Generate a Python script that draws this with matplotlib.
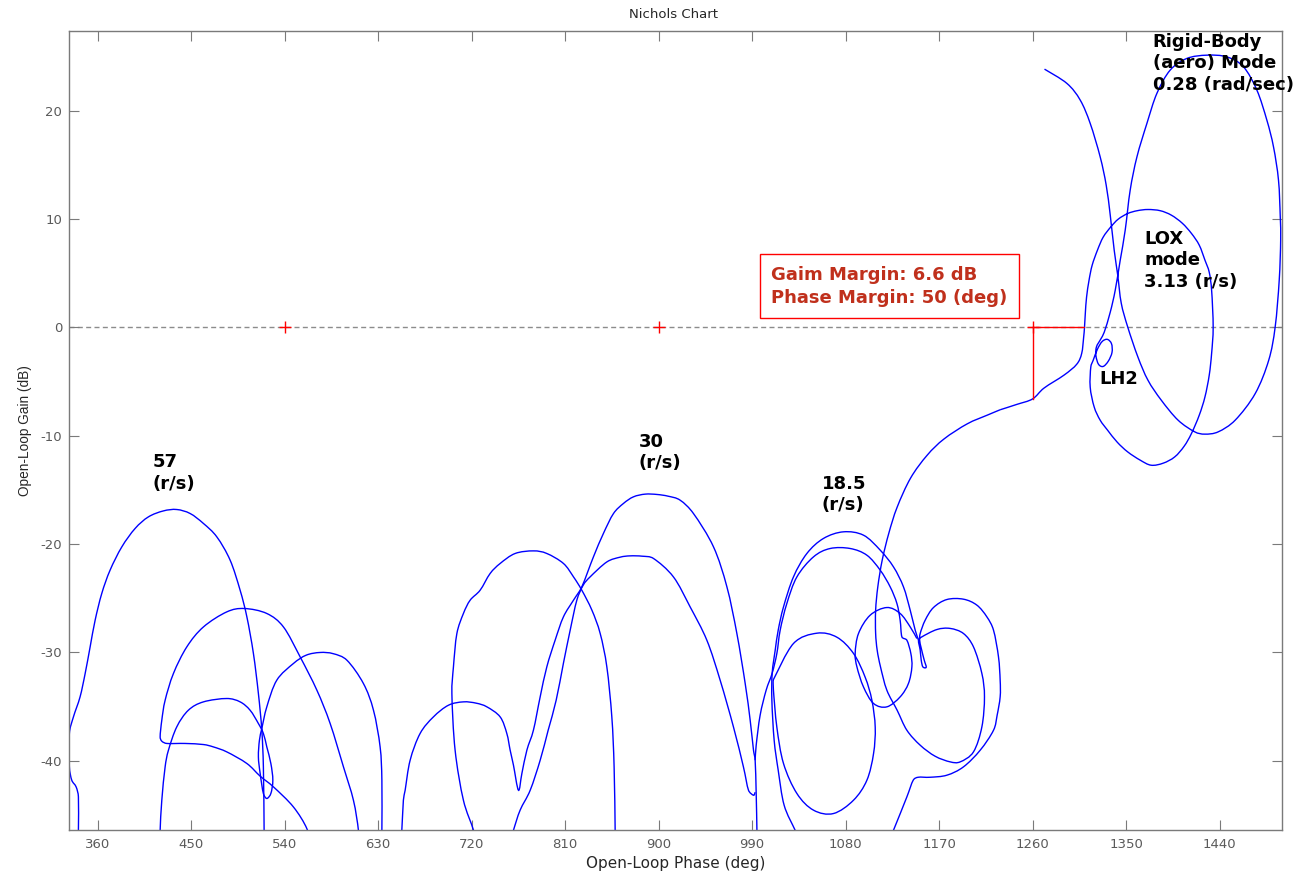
import matplotlib
matplotlib.use("Agg")
import numpy as np
import matplotlib.pyplot as plt
from matplotlib.path import Path
from matplotlib.patches import PathPatch

plt.rcParams["axes.unicode_minus"] = False
plt.rcParams["font.family"] = ["DejaVu Sans"]

# ---------------------------------------------------------------------------
# Open-loop frequency response, split into branches (phase in deg, gain in dB)
# ---------------------------------------------------------------------------

# Rigid-body (aero) mode, LH2 and LOX slosh loops, down through the crossover
rigid_lox_phase = [
    1271.5, 1293.1, 1305.9, 1315.5, 1325.1, 1330.9, 1334.8, 1338.6, 1342.0, 1345.4,
    1351.6, 1361.4, 1371.1, 1383.9, 1400.1, 1416.2, 1425.9, 1438.7, 1455.1, 1474.4,
    1487.4, 1493.6, 1497.5, 1498.9, 1498.5, 1496.8, 1492.0, 1485.6, 1476.0, 1463.1,
    1447.1, 1427.9, 1408.6, 1392.5, 1379.7, 1370.1, 1360.5, 1354.0, 1349.2, 1344.4,
    1339.6, 1334.8, 1329.0,
    1325.5, 1321.5, 1321.0, 1323.5, 1328.0, 1333.0, 1336.5, 1336.0, 1332.0, 1327.0,
    1322.5, 1318.5,
    1316.1, 1315.5, 1319.3, 1325.1, 1332.2, 1341.5, 1351.6, 1363.6, 1374.2, 1385.8,
    1396.9, 1406.0, 1413.0, 1420.5, 1426.0, 1430.1, 1432.4, 1433.9, 1432.4, 1430.1,
    1426.0, 1420.5, 1413.0, 1404.1, 1393.6, 1382.9, 1371.1, 1360.8, 1351.6, 1342.5,
    1335.4, 1328.0, 1322.5, 1317.4, 1314.4, 1312.0, 1310.8, 1310.0, 1309.2, 1307.3,
    1302.5, 1290.3, 1271.0, 1260.0, 1245.0, 1228.8,
]
rigid_lox_gain = [
    23.85, 22.53, 20.99, 18.84, 15.75, 13.14, 10.37, 7.14, 4.83, 2.24,
    0.05, -2.72, -4.87, -6.71, -8.56, -9.64, -9.85, -9.64, -8.56, -6.10,
    -3.02, 0.05, 4.37, 8.06, 10.21, 13.60, 16.67, 19.14, 21.91, 24.06,
    24.98, 25.14, 24.84, 23.76, 21.61, 18.84, 15.75, 12.68, 8.98, 6.21,
    3.44, 1.41, -0.44,
    -1.10, -1.80, -2.60, -3.40, -3.60, -3.10, -2.30, -1.50, -1.10, -1.30,
    -2.00, -3.00,
    -3.64, -5.51, -7.33, -8.56, -9.48, -10.59, -11.49, -12.25, -12.72, -12.53,
    -11.95, -10.96, -9.79, -8.10, -6.41, -4.41, -2.40, 0.03, 3.44, 5.10,
    6.21, 7.60, 8.68, 9.63, 10.37, 10.78, 10.89, 10.78, 10.52, 10.00,
    9.29, 8.34, 7.14, 5.75, 4.37, 2.80, 1.30, 0.00, -0.90, -2.40,
    -3.40, -4.40, -5.60, -6.60, -7.10, -7.60,
]

# Descent into the 18.5 r/s bending region, the two loops on its right side
bend18_phase = [
    1228.8, 1216.3, 1197.1, 1174.7, 1158.5, 1142.6, 1129.6, 1121.6, 1115.2, 1111.0,
    1108.9, 1108.9, 1110.4, 1113.6, 1119.7, 1129.6, 1139.0, 1151.8, 1166.2, 1180.7,
    1190.3, 1203.1, 1211.2, 1213.7, 1211.2, 1203.1, 1193.5, 1180.7, 1167.9, 1153.4,
    1150.2, 1151.8, 1152.8, 1154.4, 1157.6, 1155.7, 1152.8, 1151.3, 1151.8, 1156.6,
    1164.6, 1177.5, 1193.5, 1206.4, 1216.0, 1222.4, 1227.2, 1228.8, 1228.8, 1225.9,
    1222.4, 1209.6, 1193.5, 1177.5, 1161.4, 1149.9, 1145.1, 1139.0, 1126.1, 1120.0,
]
bend18_gain = [
    -7.60, -8.10, -8.90, -10.30, -11.80, -13.90, -16.60, -19.00, -21.50, -23.95,
    -26.11, -28.23, -29.80, -31.34, -33.49, -35.34, -37.19, -38.57, -39.59, -40.11,
    -40.11, -39.19, -36.88, -34.11, -31.95, -29.49, -28.26, -27.79, -27.89, -28.57,
    -28.88, -29.80, -30.72, -31.34, -31.37, -30.72, -29.61, -28.88, -28.26, -27.03,
    -25.86, -25.12, -25.09, -25.64, -26.72, -27.95, -30.42, -32.57, -34.11, -35.80,
    -37.19, -39.03, -40.57, -41.34, -41.53, -41.53, -41.80, -43.34, -46.42, -47.80,
]

# 18.5 r/s mode, outer arch
bend18_outer_phase = [
    1150.2, 1147.0, 1142.2, 1135.7, 1126.1, 1113.3, 1097.2, 1077.9, 1058.7, 1042.7,
    1029.8, 1020.2, 1015.1, 1012.2, 1009.3, 1009.0, 1011.2, 1015.1, 1020.8, 1031.4,
    1036.3,
]
bend18_outer_gain = [
    -28.88, -27.95, -26.11, -23.95, -22.11, -20.56, -19.18, -18.87, -19.48, -20.87,
    -23.03, -25.80, -27.95, -29.80, -31.92, -34.42, -38.11, -40.88, -44.11, -46.42,
    -47.50,
]

# 18.5 r/s mode, inner arch with its small loop
bend18_inner_phase = [
    992.9, 993.9, 997.7, 1003.5, 1009.3, 1013.8, 1017.0, 1023.4, 1033.1, 1049.1,
    1065.1, 1084.4, 1100.5, 1113.3, 1122.9, 1129.4, 1132.5, 1134.2, 1139.0, 1142.8,
    1143.8, 1140.5, 1132.5, 1119.7, 1106.9, 1097.2, 1090.9, 1089.2, 1092.4, 1103.6,
    1119.7, 1132.5, 1142.2, 1148.6,
]
bend18_inner_gain = [
    -39.96, -38.57, -35.80, -33.49, -31.92, -30.10, -27.95, -25.49, -23.03, -21.18,
    -20.41, -20.41, -21.03, -22.41, -23.95, -25.49, -27.03, -28.57, -28.88, -30.10,
    -31.34, -32.87, -34.11, -35.03, -34.72, -33.19, -31.34, -30.10, -28.26, -26.57,
    -25.86, -26.41, -27.65, -28.72,
]

# Closed loop between 1010 and 1110 deg
bend_mid_phase = [
    1010.2, 1029.8, 1052.3, 1071.6, 1087.6, 1098.8, 1105.3, 1108.5, 1106.9, 1100.5,
    1087.6, 1068.3, 1049.1, 1033.1, 1020.2, 1013.8, 1010.5, 1010.2,
]
bend_mid_gain = [
    -32.57, -29.18, -28.23, -28.60, -30.10, -32.29, -34.42, -36.91, -39.34, -41.80,
    -43.65, -44.88, -44.57, -43.03, -40.26, -36.91, -33.49, -32.57,
]

# 30 r/s mode, outer arch (entered from the 720 deg hump)
bend30_phase = [
    651.1, 652.7, 654.2, 655.9, 660.7, 670.3, 683.1, 697.6, 712.0, 724.3,
    734.6, 747.4, 753.8, 757.0, 760.2, 765.0, 768.3, 773.1, 779.4, 785.9,
    792.3, 800.3, 808.3, 818.0, 826.0, 837.2, 846.8, 856.5, 866.1, 875.7,
    887.0, 898.3, 909.1, 920.7, 933.5, 952.8, 965.7, 975.3, 983.3, 988.1,
    991.3, 992.9, 993.9, 994.6, 994.7,
]
bend30_gain = [
    -47.80, -46.42, -43.65, -42.73, -39.96, -37.49, -35.96, -34.88, -34.57, -34.69,
    -35.03, -35.96, -37.49, -39.03, -40.42, -42.73, -41.18, -39.03, -37.19, -34.11,
    -31.34, -28.88, -26.72, -25.18, -23.95, -21.18, -19.02, -17.18, -16.25, -15.64,
    -15.39, -15.42, -15.58, -15.95, -17.18, -20.26, -23.95, -28.26, -32.87, -36.26,
    -39.03, -39.96, -43.03, -46.42, -47.80,
]

# 30 r/s mode, inner arch
bend30_inner_phase = [
    756.0, 760.2, 766.6, 776.3, 785.9, 793.6, 801.3, 808.3, 814.8, 821.2,
    827.3, 834.0, 850.1, 862.9, 872.5, 884.1, 895.0, 914.2, 930.3, 946.4,
    959.2, 972.0, 981.6, 986.5, 991.3, 992.9,
]
bend30_inner_gain = [
    -47.80, -46.42, -44.57, -42.73, -39.96, -37.19, -34.42, -31.00, -27.95, -25.18,
    -23.80, -23.03, -21.65, -21.21, -21.09, -21.12, -21.33, -23.03, -25.80, -28.88,
    -32.57, -36.88, -40.57, -42.73, -43.19, -42.91,
]

# Hump peaking near 780 deg
hump780_phase = [
    724.3, 721.7, 712.0, 704.0, 700.9, 702.4, 705.7, 712.0, 718.5, 728.1,
    737.7, 747.4, 761.8, 779.4, 792.3, 808.3, 818.0, 826.0, 835.7, 843.7,
    850.1, 854.9, 857.1, 858.1, 858.2,
]
hump780_gain = [
    -47.80, -46.42, -43.65, -39.03, -33.80, -31.34, -28.26, -26.41, -25.18, -24.26,
    -22.72, -21.79, -20.87, -20.63, -20.87, -21.79, -23.03, -24.26, -26.10, -28.26,
    -31.34, -35.96, -40.57, -46.42, -47.80,
]

# 57 r/s mode
bend57_phase = [
    341.3, 341.3, 341.3, 339.1, 334.9, 332.6, 332.6, 336.5, 342.9, 347.8,
    352.6, 357.4, 363.8, 371.8, 383.1, 395.9, 408.7, 423.1, 436.0, 448.9,
    461.7, 474.6, 487.4, 497.0, 503.5, 509.8, 514.6, 517.9, 519.4, 520.1,
    520.1,
]
bend57_gain = [
    -47.80, -46.42, -43.34, -42.42, -41.80, -40.57, -37.49, -35.96, -34.11, -31.95,
    -29.49, -27.03, -24.56, -22.41, -20.26, -18.56, -17.49, -16.94, -16.81, -17.18,
    -18.10, -19.34, -21.49, -24.26, -26.72, -30.10, -33.80, -37.19, -40.57, -46.42,
    -47.80,
]

# Arch peaking near 500 deg, with its flat tail
hump500_phase = [
    611.0, 610.9, 606.1, 596.5, 583.7, 570.9, 554.8, 538.7, 522.7, 501.1,
    484.2, 461.7, 445.7, 432.8, 424.8, 421.6, 420.0, 421.6, 426.4, 444.0,
    461.7, 471.3, 484.2, 503.5, 516.3, 529.1, 548.3, 561.2, 564.4,
]
hump500_gain = [
    -47.80, -46.42, -43.65, -40.57, -36.57, -33.49, -30.42, -27.65, -26.41, -25.95,
    -26.26, -27.65, -29.49, -31.95, -34.42, -36.26, -37.80, -38.20, -38.41, -38.41,
    -38.51, -38.73, -39.19, -40.26, -41.43, -42.42, -44.27, -46.26, -47.80,
]

# Low arch near 480 deg, small knot and arch near 575 deg
hump575_phase = [
    420.0, 420.0, 421.6, 424.8, 428.0, 436.0, 447.2, 461.7, 484.2, 497.0,
    506.6, 514.6, 519.4, 522.7, 526.6, 528.5, 526.6, 522.7, 519.4, 516.3,
    514.6, 515.6, 517.9, 522.7, 532.3, 548.3, 560.6, 574.0, 586.6, 599.8,
    615.7, 625.4, 631.8, 633.5, 633.5, 633.5,
]
hump575_gain = [
    -47.80, -46.42, -43.65, -40.57, -39.03, -36.88, -35.34, -34.57, -34.26, -34.57,
    -35.34, -36.57, -37.49, -38.73, -40.26, -41.80, -43.03, -43.49, -43.03, -41.18,
    -39.65, -38.11, -37.03, -35.03, -32.57, -31.03, -30.26, -30.01, -30.12, -30.72,
    -32.87, -35.34, -38.73, -41.80, -46.42, -47.80,
]

# Stability margins and -180 deg (mod 360) critical points
gain_margin_db = 6.6
phase_margin_deg = 50
critical_phase = [540, 900, 1260]
margin_phase = 1260

x_ticks = [360, 450, 540, 630, 720, 810, 900, 990, 1080, 1170, 1260, 1350, 1440]
y_ticks = [-40, -30, -20, -10, 0, 10, 20]

branches = [
    (rigid_lox_phase, rigid_lox_gain),
    (bend18_phase, bend18_gain),
    (bend18_outer_phase, bend18_outer_gain),
    (bend18_inner_phase, bend18_inner_gain),
    (bend_mid_phase, bend_mid_gain),
    (bend30_phase, bend30_gain),
    (bend30_inner_phase, bend30_inner_gain),
    (hump780_phase, hump780_gain),
    (bend57_phase, bend57_gain),
    (hump500_phase, hump500_gain),
    (hump575_phase, hump575_gain),
]
for ph, g in branches:
    assert len(ph) == len(g)


def smooth_path(phase, gain, aspect=10.4, clamp=0.4):
    """Cubic Bezier path passing through every (phase, gain) sample
    (Catmull-Rom tangents, limited to a fraction of each segment)."""
    p = np.column_stack([np.asarray(phase, float), np.asarray(gain, float) * aspect])
    n = len(p)
    verts = [p[0]]
    codes = [Path.MOVETO]
    for i in range(n - 1):
        p0 = p[i - 1] if i > 0 else p[i]
        p1, p2 = p[i], p[i + 1]
        p3 = p[i + 2] if i + 2 < n else p[i + 1]
        seg = np.hypot(*(p2 - p1))
        t1 = (p2 - p0) / 6.0
        t2 = (p3 - p1) / 6.0
        for t in (t1, t2):
            m = np.hypot(*t)
            if m > clamp * seg and m > 0:
                t *= clamp * seg / m
        verts += [p1 + t1, p2 - t2, p2]
        codes += [Path.CURVE4] * 3
    v = np.array(verts)
    v[:, 1] /= aspect
    return Path(v, codes)


# ---------------------------------------------------------------------------
fig = plt.figure(figsize=(13.02, 8.77), dpi=100)
ax = fig.add_axes([0.0532, 0.0536, 0.9317, 0.9114])

ax.axhline(0, color="#8c8c8c", lw=1.0, linestyle=(0, (3.6, 2.4)), zorder=1)

for ph, g in branches:
    ax.add_patch(PathPatch(smooth_path(ph, g), fc="none", ec="#0000ff",
                           lw=1.0, zorder=2))

# margin markers
ax.plot(critical_phase, [0] * len(critical_phase), linestyle="none", marker="+",
        color="#ff0000", markersize=9, mew=1.0, zorder=3)
ax.plot([margin_phase, margin_phase + phase_margin_deg], [0, 0],
        color="#ff0000", lw=1.0, zorder=3)
ax.plot([margin_phase, margin_phase], [0, -gain_margin_db],
        color="#ff0000", lw=1.0, zorder=3)

ax.set_xlim(332.5, 1500.5)
ax.set_ylim(-46.4, 27.4)
ax.set_xticks(x_ticks)
ax.set_yticks(y_ticks)

for sp in ax.spines.values():
    sp.set_color("#7a7a7a")
    sp.set_linewidth(1.0)
ax.tick_params(axis="both", direction="in", length=7, width=0.8, color="#7a7a7a",
               top=True, right=True, labelsize=9.5, labelcolor="#5a5a5a")
ax.tick_params(axis="x", pad=5.5)
ax.tick_params(axis="y", pad=5)

fig.text(0.5174, 0.984, "Nichols Chart", ha="center", va="center",
         fontsize=9.5, color="#262626")
ax.set_xlabel("Open-Loop Phase (deg)", fontsize=11, color="#262626", labelpad=4)
ax.set_ylabel("Open-Loop Gain (dB)", fontsize=9.8, color="#262626",
              family=["Liberation Sans"], labelpad=6)

note = dict(fontsize=13, fontweight="bold", color="black", ha="left", va="top",
            linespacing=1.25, zorder=4)
ax.text(412.5, -11.6, "57\n(r/s)", **note)
ax.text(881.0, -9.7, "30\n(r/s)", **note)
ax.text(1057.0, -13.6, "18.5\n(r/s)", **note)
ax.text(1375.5, 27.2, "Rigid-Body\n(aero) Mode\n0.28 (rad/sec)", **note)
ax.text(1367.5, 9.0, "LOX\nmode\n3.13 (r/s)", **note)
ax.text(1324.0, -3.9, "LH2", **note)

ax.text(1122.0, 3.8,
        f"Gaim Margin: {gain_margin_db} dB\nPhase Margin: {phase_margin_deg} (deg)",
        fontsize=13, fontweight="bold", color="#c0301c", ha="center", va="center",
        multialignment="left", linespacing=1.38, zorder=5,
        bbox=dict(boxstyle="square,pad=0.62", fc="white", ec="#ff0000", lw=1.0))

fig.savefig("out.png", dpi=100)
